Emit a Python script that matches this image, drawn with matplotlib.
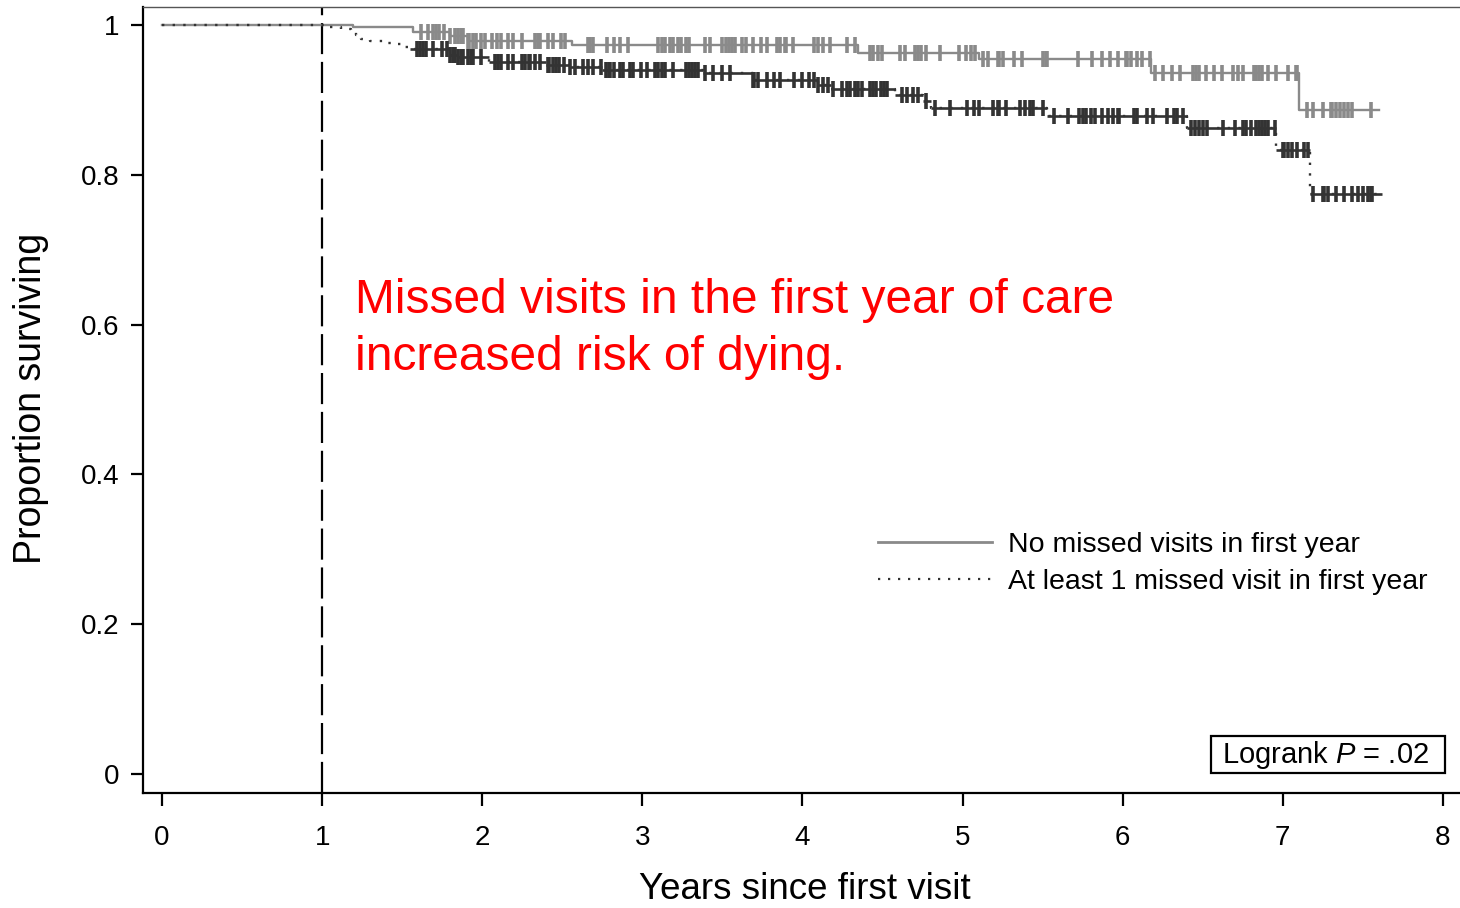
import numpy as np
import matplotlib
matplotlib.use("Agg")
import matplotlib.pyplot as plt
from matplotlib.lines import Line2D
from matplotlib.patches import Rectangle

plt.rcParams['font.family'] = ['Liberation Sans', 'DejaVu Sans']
plt.rcParams['mathtext.fontset'] = 'custom'
plt.rcParams['mathtext.rm'] = 'Liberation Sans'
plt.rcParams['mathtext.it'] = 'Liberation Sans:italic'

# Kaplan-Meier steps: no missed visits in first year
grey_t = [0, 1.19, 1.57, 1.80, 1.91, 2.56, 4.35, 5.10, 6.18, 7.10]
grey_s = [1.0, 0.997, 0.990, 0.985, 0.978, 0.973, 0.963, 0.955, 0.936, 0.887]
grey_end = 7.60
grey_cens = [1.62, 1.66, 1.69, 1.71, 1.73, 1.76, 1.80, 1.83, 1.85, 1.87, 1.88, 1.91,
             1.92, 1.94, 1.96, 1.99, 2.02, 2.06, 2.09, 2.12, 2.16, 2.19, 2.25, 2.33,
             2.35, 2.36, 2.41, 2.44, 2.49, 2.52, 2.66, 2.67, 2.69, 2.78, 2.82, 2.86,
             2.91, 3.10, 3.12, 3.14, 3.17, 3.19, 3.22, 3.24, 3.27, 3.29, 3.39, 3.42,
             3.50, 3.52, 3.54, 3.56, 3.58, 3.62, 3.65, 3.69, 3.74, 3.78, 3.84, 3.86,
             3.89, 3.90, 3.94, 4.07, 4.10, 4.13, 4.17, 4.28, 4.33, 4.42, 4.44, 4.47,
             4.50, 4.61, 4.64, 4.70, 4.72, 4.74, 4.77, 4.86, 4.98, 5.02, 5.05, 5.08,
             5.13, 5.16, 5.22, 5.23, 5.25, 5.32, 5.37, 5.50, 5.52, 5.53, 5.72, 5.81,
             5.87, 5.92, 5.97, 6.02, 6.03, 6.05, 6.09, 6.12, 6.17, 6.20, 6.25, 6.31,
             6.36, 6.44, 6.46, 6.48, 6.52, 6.57, 6.62, 6.69, 6.72, 6.75, 6.82, 6.83,
             6.85, 6.87, 6.91, 6.96, 7.03, 7.08, 7.09, 7.15, 7.19, 7.25, 7.30, 7.31,
             7.33, 7.36, 7.38, 7.41, 7.43, 7.55]

# Kaplan-Meier steps: at least 1 missed visit in first year
dark_t = [0, 1.03, 1.12, 1.18, 1.21, 1.24, 1.30, 1.38, 1.46, 1.52, 1.55, 1.80, 1.85,
          2.04, 2.40, 2.55, 2.75, 3.38, 3.69, 4.10, 4.18, 4.58, 4.75, 4.80, 5.53,
          6.40, 6.96, 7.17]
dark_s = [1.0, 0.997, 0.995, 0.991, 0.986, 0.981, 0.978, 0.976, 0.974, 0.971, 0.968,
          0.960, 0.957, 0.951, 0.947, 0.944, 0.940, 0.936, 0.927, 0.920, 0.914, 0.906,
          0.899, 0.889, 0.878, 0.863, 0.833, 0.774]
dark_end = 7.62
dark_cens = [1.59, 1.61, 1.63, 1.65, 1.69, 1.75, 1.78, 1.80, 1.82, 1.83, 1.85, 1.87,
             1.88, 1.91, 1.93, 1.94, 1.99, 2.08, 2.10, 2.12, 2.16, 2.19, 2.25, 2.27,
             2.29, 2.30, 2.33, 2.36, 2.41, 2.42, 2.44, 2.46, 2.48, 2.51, 2.55, 2.58,
             2.63, 2.66, 2.69, 2.74, 2.77, 2.79, 2.80, 2.82, 2.86, 2.88, 2.92, 2.94,
             2.99, 3.03, 3.08, 3.10, 3.12, 3.14, 3.19, 3.27, 3.29, 3.31, 3.33, 3.35,
             3.39, 3.44, 3.50, 3.55, 3.69, 3.70, 3.72, 3.78, 3.82, 3.86, 3.95, 4.00,
             4.04, 4.07, 4.10, 4.13, 4.16, 4.19, 4.25, 4.28, 4.30, 4.33, 4.35, 4.37,
             4.42, 4.44, 4.46, 4.49, 4.51, 4.53, 4.62, 4.65, 4.69, 4.72, 4.77, 4.83,
             4.92, 5.03, 5.07, 5.10, 5.19, 5.22, 5.23, 5.27, 5.36, 5.39, 5.42, 5.44,
             5.50, 5.57, 5.66, 5.73, 5.75, 5.77, 5.80, 5.83, 5.87, 5.91, 5.94, 5.97,
             5.98, 6.07, 6.09, 6.15, 6.19, 6.28, 6.32, 6.34, 6.38, 6.43, 6.45, 6.48,
             6.50, 6.53, 6.63, 6.70, 6.75, 6.77, 6.80, 6.83, 6.85, 6.87, 6.89, 6.91,
             6.95, 7.00, 7.01, 7.03, 7.06, 7.09, 7.13, 7.16, 7.19, 7.25, 7.26, 7.28,
             7.33, 7.38, 7.43, 7.47, 7.50, 7.53, 7.55, 7.56]

logrank_p = ".02"
grey_col = "#8a8a8a"
dark_col = "#333333"


def level_at(t_steps, s_steps, times):
    idx = np.searchsorted(t_steps, times, side="right") - 1
    return np.asarray(s_steps)[idx]


W, H = 1460, 908
fig = plt.figure(figsize=(W / 100, H / 100), dpi=100)
ax = fig.add_axes([143 / W, 1 - 793 / H, (1459 - 143) / W, (793 - 7) / H])

# grey curve, solid
gx = list(grey_t) + [grey_end]
gy = list(grey_s) + [grey_s[-1]]
ax.step(gx, gy, where="post", color=grey_col, lw=1.7, zorder=3)
ax.plot(grey_cens, level_at(grey_t, grey_s, grey_cens), ls="none", marker="|",
        ms=12, mew=2.6, color=grey_col, zorder=3)

# dark curve: dotted steps, solid where censored follow-up starts
dx = list(dark_t) + [dark_end]
dy = list(dark_s) + [dark_s[-1]]
ax.step(dx, dy, where="post", color=dark_col, lw=1.7, ls=(0, (1, 3.5)), zorder=4)
for i in range(len(dark_t)):
    if dark_t[i] >= 1.55:
        ax.hlines(dark_s[i], dark_t[i], dx[i + 1], color=dark_col, lw=1.9, zorder=4)
ax.plot(dark_cens, level_at(dark_t, dark_s, dark_cens), ls="none", marker="|",
        ms=12, mew=2.6, color=dark_col, zorder=4)

# reference line at one year
ax.axvline(1, color="black", lw=1.6, ls=(0, (14, 3.5)), zorder=2)

ax.set_xlim(-0.119, 8.101)
ax.set_ylim(-0.0254, 1.024)
ax.set_xticks(range(0, 9))
ax.set_yticks([0, 0.2, 0.4, 0.6, 0.8, 1])
ax.set_yticklabels(["0", "0.2", "0.4", "0.6", "0.8", "1"])
ax.tick_params(axis="both", direction="out", length=9, width=1.6, labelsize=20,
               colors="black")
ax.tick_params(axis="x", pad=14)
ax.tick_params(axis="y", pad=8)
for side in ["left", "bottom"]:
    ax.spines[side].set_linewidth(1.6)
ax.spines["top"].set_linewidth(1.0)
ax.spines["top"].set_color("#555555")
ax.spines["right"].set_visible(False)

fig.text(805 / W, 1 - 899 / H, "Years since first visit", fontsize=26.5,
         ha="center", va="baseline")
fig.text(31 / W, 1 - 398 / H, "Proportion surviving", rotation=90,
         fontsize=27, ha="center", va="center")

# red annotation
fig.text(355 / W, 1 - 313 / H, "Missed visits in the first year of care",
         color="red", fontsize=34.5, va="baseline")
fig.text(355 / W, 1 - 370 / H, "increased risk of dying.",
         color="red", fontsize=34.5, va="baseline")

handles = [Line2D([], [], color=grey_col, lw=2),
           Line2D([], [], color=dark_col, lw=1.6, ls=(0, (1, 3.5)))]
ax.legend(handles, ["No missed visits in first year",
                    "At least 1 missed visit in first year"],
          loc="upper left", bbox_to_anchor=(878 / W, 1 - 532 / H),
          bbox_transform=fig.transFigure, frameon=False, fontsize=20.5,
          handlelength=4.0, handletextpad=0.56, labelspacing=0.38,
          borderpad=0, borderaxespad=0)

# log-rank result box
fig.patches.append(Rectangle((1211 / W, 1 - 773 / H), (1445 - 1211) / W, 37 / H,
                             transform=fig.transFigure, fc="white", ec="black",
                             lw=1.6, zorder=5))
fig.text(1222 / W, 1 - 755 / H, "Logrank $P$ = " + logrank_p, fontsize=21,
         ha="left", va="center", zorder=6)

fig.savefig("out.png", dpi=100)
